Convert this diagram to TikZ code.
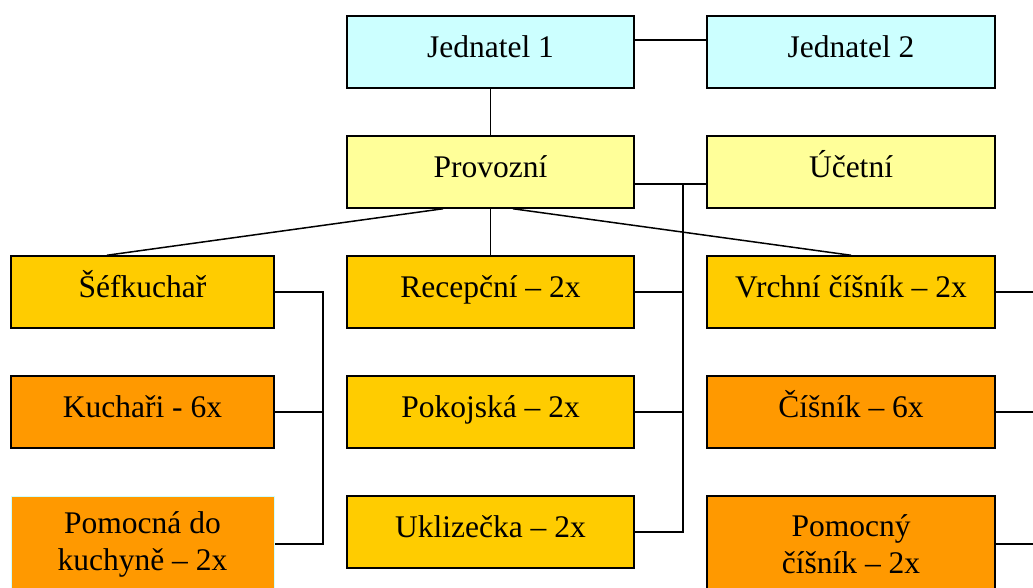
\documentclass[tikz,border=0pt]{standalone}
\usepackage{fontspec}
\setmainfont{Liberation Serif}
\usetikzlibrary{positioning}

\definecolor{boardcyan}{HTML}{CCFFFF}
\definecolor{mgmtyellow}{HTML}{FFFF99}
\definecolor{staffgold}{HTML}{FFCC00}
\definecolor{staffrange}{HTML}{FF9900}

\begin{document}
\begin{tikzpicture}[
  x=1pt, y=-1pt,
  font=\fontsize{31.5}{37}\selectfont,
  post/.style={rectangle, draw=black, line width=1.5pt, align=center,
               minimum height=72pt, minimum width=287pt, inner sep=0pt,
               text height=22pt, text depth=12pt},
  narrow/.style={minimum width=263pt},
  wide/.style={minimum width=288pt},
  tall/.style={minimum height=96pt, text height={}, text depth={}},
  board/.style={post, fill=boardcyan},
  mgmt/.style={post, fill=mgmtyellow},
  lead/.style={post, fill=staffgold},
  crew/.style={post, fill=staffrange},
  link/.style={draw=black, line width=1.5pt},
]
\useasboundingbox (0,0) rectangle (1033,587);
\clip (0,0) rectangle (1033,587);

% --- nodes per row ---
\node[board] (jed1) at (490.5,52) {Jednatel 1};
\node[board, wide] (jed2) at (851,52) {Jednatel 2};

\node[mgmt] (prov) at (490.5,172) {Provozní};
\node[mgmt, wide] (ucet) at (851,172) {Účetní};

\node[lead, narrow] (chef) at (142.5,292) {Šéfkuchař};
\node[lead] (recep) at (490.5,292) {Recepční – 2x};
\node[lead, wide] (vrchni) at (851,292) {Vrchní číšník – 2x};

\node[crew, narrow] (kuch) at (142.5,412) {Kuchaři - 6x};
\node[lead] (pokoj) at (490.5,412) {Pokojská – 2x};
\node[crew, wide] (cisnik) at (851,412) {Číšník – 6x};

\node[crew, narrow, tall, draw=boardcyan, line width=1pt] (pomkuch) at (142.5,544) {Pomocná do\\kuchyně – 2x};
\node[lead] (uklid) at (490.5,532) {Uklizečka – 2x};
\node[crew, wide, tall] (pomcis) at (851,544) {Pomocný\\číšník – 2x};

% --- bus lines ---
\coordinate (kitchenbus) at (323,0);
\coordinate (housebus) at (683,0);
\coordinate (edge) at (1033,0);

% --- connectors ---
\draw[link] ([yshift=12pt]jed1.east) -- ([yshift=12pt]jed2.west);
\draw[link] (jed1.south) -- (prov.north);
\draw[link] ([yshift=-12pt]prov.east) -- ([yshift=-12pt]ucet.west);

\draw[link] ([xshift=-47.5pt]prov.south) -- ([xshift=-35.5pt]chef.north);
\draw[link] (prov.south) -- (recep.north);
\draw[link] ([xshift=22.5pt]prov.south) -- (vrchni.north);

\draw[link] (chef.east) -| (kitchenbus |- pomkuch.east) -- (pomkuch.east);
\draw[link] (kuch.east) -- (kitchenbus |- kuch.east);

\draw[link] ([yshift=-12pt]prov.east) -| (housebus |- uklid.east) -- (uklid.east);
\draw[link] (recep.east) -- (housebus |- recep.east);
\draw[link] (pokoj.east) -- (housebus |- pokoj.east);

\draw[link] (vrchni.east) -- (edge |- vrchni.east);
\draw[link] (cisnik.east) -- (edge |- cisnik.east);
\draw[link] (pomcis.east) -- (edge |- pomcis.east);

\end{tikzpicture}
\end{document}
